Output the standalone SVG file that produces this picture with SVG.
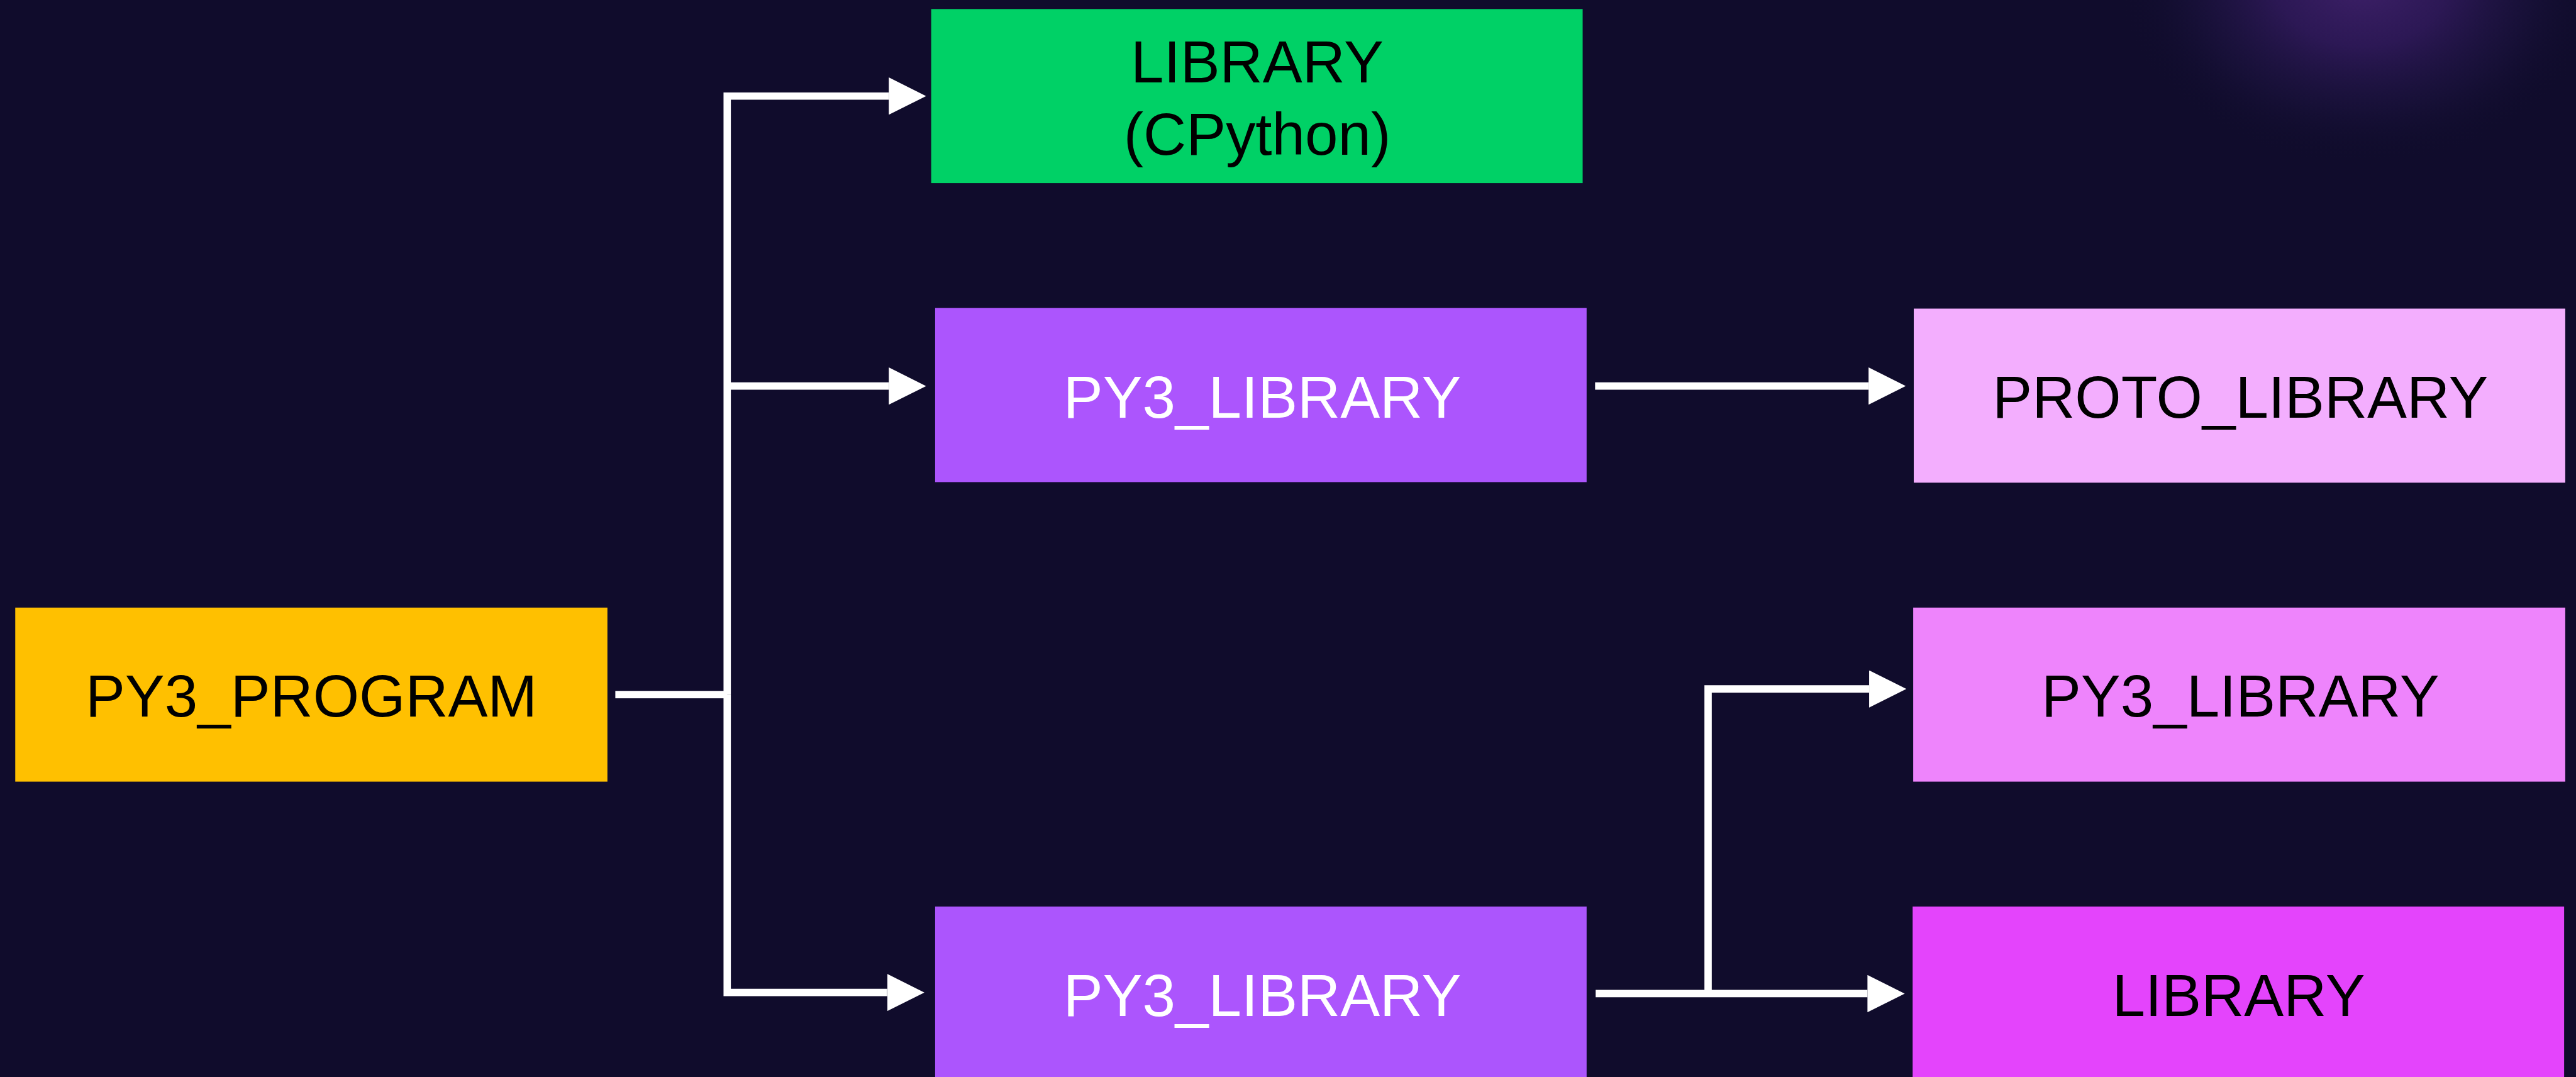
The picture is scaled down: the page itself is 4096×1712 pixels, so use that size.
<svg xmlns="http://www.w3.org/2000/svg" width="4096" height="1712" viewBox="0 0 4096 1712">
  <defs>
    <radialGradient id="glow" cx="0" cy="0" r="1" gradientUnits="userSpaceOnUse" gradientTransform="translate(4180,-30) scale(430,320)">
      <stop offset="0" stop-color="#3d2068"/>
      <stop offset="0.35" stop-color="#311a5c" stop-opacity="0.85"/>
      <stop offset="0.7" stop-color="#1e1442" stop-opacity="0.5"/>
      <stop offset="1" stop-color="#100c2c" stop-opacity="0"/>
    </radialGradient>
    <marker id="arrow" viewBox="0 0 66 66" markerWidth="66" markerHeight="66" markerUnits="userSpaceOnUse" refX="0" refY="33" orient="auto">
      <path d="M0,0 L66,33 L0,66 Z" fill="#ffffff"/>
    </marker>
    <style>
      .label { font-family: "Liberation Sans", Arial, sans-serif; font-size: 105px; text-anchor: middle; }
      .dark { fill: #000000; }
      .light { fill: #ffffff; }
      .link { fill: none; stroke: #ffffff; stroke-width: 13; stroke-linejoin: miter; stroke-linecap: butt; }
    </style>
  </defs>

  <rect x="0" y="0" width="4096" height="1712" fill="#100c2c"/>

  <g transform="scale(0.89844)">
    <!-- soft light in the upper right corner -->
    <ellipse cx="4180" cy="-30" rx="430" ry="320" fill="url(#glow)"/>

    <g id="connectors">
      <path class="link" d="M1089,1229 H1287"/>
      <path class="link" d="M1287,1229 V170 H1573" marker-end="url(#arrow)"/>
      <path class="link" d="M1287,683 H1573" marker-end="url(#arrow)"/>
      <path class="link" d="M1287,1229 V1756 H1570" marker-end="url(#arrow)"/>
      <path class="link" d="M2823,683 H3307" marker-end="url(#arrow)"/>
      <path class="link" d="M2824,1758 H3305" marker-end="url(#arrow)"/>
      <path class="link" d="M3023,1758 V1219 H3308" marker-end="url(#arrow)"/>
    </g>

    <g id="py3-program">
      <rect x="27" y="1075" width="1048" height="308" fill="#ffc000"/>
      <text class="label dark" x="551" y="1268">PY3_PROGRAM</text>
    </g>

    <g id="library-cpython">
      <rect x="1648" y="16" width="1153" height="308" fill="#00d166"/>
      <text class="label dark" x="2225" y="146">LIBRARY</text>
      <text class="label dark" x="2225" y="274">(CPython)</text>
    </g>

    <g id="py3-library-a">
      <rect x="1655" y="545" width="1153" height="308" fill="#ac55fd"/>
      <text class="label light" x="2234" y="739">PY3_LIBRARY</text>
    </g>

    <g id="py3-library-b">
      <rect x="1655" y="1604" width="1153" height="308" fill="#ac55fd"/>
      <text class="label light" x="2234" y="1798">PY3_LIBRARY</text>
    </g>

    <g id="proto-library">
      <rect x="3387" y="546" width="1153" height="308" fill="#f3aefe"/>
      <text class="label dark" x="3965" y="739">PROTO_LIBRARY</text>
    </g>

    <g id="py3-library-c">
      <rect x="3386" y="1075" width="1154" height="308" fill="#ee84fc"/>
      <text class="label dark" x="3965" y="1268">PY3_LIBRARY</text>
    </g>

    <g id="library">
      <rect x="3385" y="1604" width="1153" height="308" fill="#e444fc"/>
      <text class="label dark" x="3962" y="1798">LIBRARY</text>
    </g>
  </g>
</svg>
